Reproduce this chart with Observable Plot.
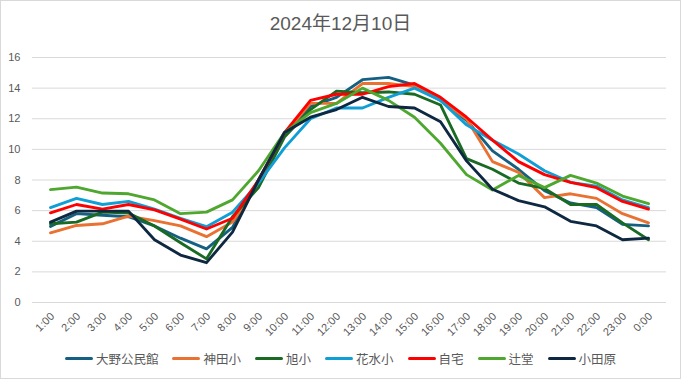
<!DOCTYPE html>
<html><head><meta charset="utf-8">
<script src="https://cdn.jsdelivr.net/npm/d3@7"></script>
<script src="https://cdn.jsdelivr.net/npm/@observablehq/plot@0.6"></script>
<style>
body{margin:0;background:#fff;}
#chart{width:681px;height:379px;box-sizing:border-box;border:1px solid #d9d9d9;position:relative;font-family:"Liberation Sans","Noto Sans CJK JP",sans-serif;overflow:hidden;}
#title{height:39px;line-height:46px;text-align:center;font-size:19px;color:#595959;}
#plot{height:300px;}
#legend{position:absolute;left:0;right:0;top:347px;height:20px;display:flex;justify-content:center;align-items:center;font-size:12.5px;color:#595959;}
.item{display:flex;align-items:center;margin:0 7px;}
.sw{width:28px;height:3px;border-radius:2px;margin-right:3px;}
</style>
</head><body>
<div id="chart">
  <div id="title">2024年12月10日</div>
  <div id="plot"></div>
  <div id="legend"></div>
</div>
<script>
const hours = ["1:00","2:00","3:00","4:00","5:00","6:00","7:00","8:00","9:00","10:00","11:00","12:00","13:00","14:00","15:00","16:00","17:00","18:00","19:00","20:00","21:00","22:00","23:00","0:00"];
const seriesNames = ["大野公民館","神田小","旭小","花水小","自宅","辻堂","小田原"];
const seriesColors = ["#156082","#E97132","#196B24","#0F9ED5","#FF0000","#4EA72E","#0E2841"];
const yTicks = [0,2,4,6,8,10,12,14,16];

const ohno    = [4.97,5.8,5.7,5.6,5.0,4.2,3.5,4.9,8.0,11.0,12.8,13.4,14.55,14.7,14.2,13.2,11.9,9.9,8.7,7.3,6.5,6.2,5.1,5.0];
const kanda   = [4.55,5.03,5.14,5.64,5.35,5.0,4.3,5.25,7.8,11.0,13.0,13.0,14.3,14.3,14.1,13.2,12.0,9.2,8.5,6.85,7.1,6.8,5.8,5.2];
const asahi   = [5.14,5.25,5.9,5.84,5.0,3.9,2.85,5.6,7.5,10.8,12.6,13.8,13.7,13.75,13.6,12.9,9.4,8.7,7.8,7.45,6.4,6.4,5.2,4.1];
const hanamizu= [6.2,6.8,6.4,6.6,6.1,5.5,4.95,5.9,7.8,10.1,12.0,12.7,12.7,13.4,14.0,13.2,11.6,10.6,9.7,8.6,7.85,7.6,6.7,6.2];
const jitaku  = [5.86,6.4,6.1,6.4,6.05,5.45,4.8,5.5,8.0,11.1,13.2,13.6,13.6,14.1,14.3,13.4,12.1,10.6,9.2,8.35,7.85,7.5,6.6,6.1];
const tsujido = [7.37,7.54,7.15,7.1,6.7,5.8,5.9,6.7,8.6,11.1,12.4,13.0,14.0,13.2,12.1,10.4,8.35,7.35,8.3,7.5,8.3,7.8,6.95,6.45];
const odawara = [5.25,5.97,5.97,5.97,4.1,3.1,2.6,4.6,8.0,11.1,12.1,12.6,13.4,12.8,12.7,11.8,9.25,7.4,6.65,6.25,5.3,5.0,4.1,4.2];

const allValues = [ohno,kanda,asahi,hanamizu,jitaku,tsujido,odawara];
const rows = [];
seriesNames.forEach((s,si)=>{
  allValues[si].forEach((v,i)=>rows.push({series:s,hour:hours[i],value:v}));
});

const chart = Plot.plot({
  width:679,
  height:300,
  marginTop:17,
  marginBottom:38,
  marginLeft:31,
  marginRight:14,
  style:{fontSize:"11px",color:"#595959",fontFamily:"'Liberation Sans','Noto Sans CJK JP',sans-serif",background:"transparent"},
  x:{type:"point",domain:hours,padding:0.5,label:null},
  y:{domain:[0,16],label:null},
  color:{domain:seriesNames,range:seriesColors},
  marks:[
    Plot.ruleY(yTicks,{stroke:"#d9d9d9",strokeWidth:1}),
    Plot.axisY({ticks:yTicks,tickSize:0,tickPadding:12,label:null}),
    Plot.axisX({tickSize:0,tickPadding:12,tickRotate:-45,label:null,dx:2}),
    Plot.line(rows,{x:"hour",y:"value",z:"series",stroke:"series",strokeWidth:2.85,strokeLinejoin:"round",strokeLinecap:"round"})
  ]
});
document.getElementById("plot").appendChild(chart);

const leg = document.getElementById("legend");
seriesNames.forEach((s,i)=>{
  const it=document.createElement("div");it.className="item";
  const sw=document.createElement("div");sw.className="sw";sw.style.background=seriesColors[i];
  const t=document.createElement("span");t.textContent=s;
  it.appendChild(sw);it.appendChild(t);leg.appendChild(it);
});
</script>
</body></html>
